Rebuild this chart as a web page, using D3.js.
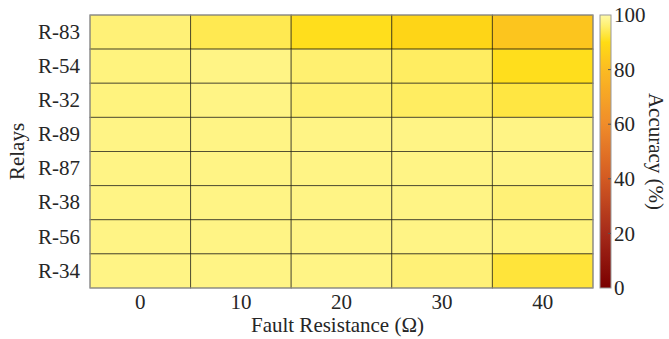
<!DOCTYPE html>
<html><head><meta charset="utf-8">
<script src="https://cdn.jsdelivr.net/npm/d3@7/dist/d3.min.js"></script>
<style>body{margin:0;background:#fff}svg{display:block}text{font-family:"Liberation Serif","Times New Roman",serif !important;fill:#262626}</style>
</head><body><svg id="c" width="669" height="339"></svg>
<script>
const relays = ["R-83","R-54","R-32","R-89","R-87","R-38","R-56","R-34"];
const resistances = ["0","10","20","30","40"];
const accR83 = [96.5, 94, 90.5, 88, 83];
const accR54 = [97, 97.5, 96, 95, 90.5];
const accR32 = [97, 97.5, 96, 95, 93];
const accR89 = [97.5, 97.5, 97.5, 97.5, 97.5];
const accR87 = [97.5, 97.5, 97.5, 97.5, 97.5];
const accR38 = [97.5, 97.5, 97.5, 97.5, 96.5];
const accR56 = [97.5, 97.5, 97.5, 97.5, 97];
const accR34 = [97.5, 97.5, 97.5, 96.5, 92.5];
const colorbarTicks = [0, 20, 40, 60, 80, 100];

const rows = [accR83, accR54, accR32, accR89, accR87, accR38, accR56, accR34];
const cells = [];
rows.forEach((r, i) => r.forEach((v, j) => cells.push({relay: relays[i], res: resistances[j], v})));

const svg = d3.select("#c");
const L = 90, R = 593, T = 15, B = 288;
const FS = 21;
const x = d3.scaleBand().domain(resistances).range([L, R]);
const y = d3.scaleBand().domain(relays).range([T, B]);
const color = d3.scaleLinear()
  .domain([0, 20, 40, 60, 80, 90, 96, 100])
  .range(["#7a0000", "#a52a1a", "#d35a22", "#f08c2a", "#fbbb22", "#ffdc14", "#fff070", "#fffaa8"])
  .interpolate(d3.interpolateRgb);

svg.append("g").selectAll("rect").data(cells).join("rect")
  .attr("x", d => x(d.res)).attr("y", d => y(d.relay))
  .attr("width", x.bandwidth()).attr("height", y.bandwidth())
  .attr("fill", d => color(d.v))
  .attr("stroke", "rgba(0,0,0,0.55)").attr("stroke-width", 1);

svg.append("rect").attr("x", L).attr("y", T).attr("width", R - L).attr("height", B - T)
  .attr("fill", "none").attr("stroke", "#9a9a9a").attr("stroke-width", 1);

const xa = svg.append("g").attr("transform", `translate(0,${B})`).call(d3.axisBottom(x).tickSize(0).tickPadding(6));
xa.select(".domain").remove();
xa.selectAll("text").attr("font-size", FS).attr("fill", "#262626");
const ya = svg.append("g").attr("transform", `translate(${L},0)`).call(d3.axisLeft(y).tickSize(0).tickPadding(10));
ya.select(".domain").remove();
ya.selectAll("text").attr("font-size", FS).attr("fill", "#262626");

svg.append("text").attr("x", (L + R) / 2 - 4).attr("y", 332).attr("text-anchor", "middle")
  .attr("font-size", FS).text("Fault Resistance (Ω)");
svg.append("text").attr("transform", `translate(24,${(T + B) / 2}) rotate(-90)`).attr("text-anchor", "middle")
  .attr("font-size", FS).text("Relays");

const cbX = 600, cbW = 11;
const cy = d3.scaleLinear().domain([0, 100]).range([B, T]);
const defs = svg.append("defs");
const grad = defs.append("linearGradient").attr("id", "g").attr("x1", 0).attr("y1", 1).attr("x2", 0).attr("y2", 0);
d3.range(0, 101, 2).forEach(v => grad.append("stop").attr("offset", v / 100).attr("stop-color", color(v)));
svg.append("rect").attr("x", cbX).attr("y", T).attr("width", cbW).attr("height", B - T)
  .attr("fill", "url(#g)").attr("stroke", "#9a9a9a").attr("stroke-width", 1);
const cba = svg.append("g").attr("transform", `translate(${cbX + cbW},0)`)
  .call(d3.axisRight(cy).tickValues(colorbarTicks).tickSize(0).tickPadding(3));
cba.select(".domain").remove();
cba.selectAll("text").attr("font-size", FS).attr("fill", "#262626");
svg.append("g").selectAll("line").data(colorbarTicks.slice(1, -1)).join("line")
  .attr("x1", cbX + cbW - 3).attr("x2", cbX + cbW).attr("y1", d => cy(d)).attr("y2", d => cy(d))
  .attr("stroke", "#555").attr("stroke-width", 1);
svg.append("text").attr("transform", `translate(649,${(T + B) / 2}) rotate(90)`).attr("text-anchor", "middle")
  .attr("font-size", FS).text("Accuracy (%)");
</script></body></html>
